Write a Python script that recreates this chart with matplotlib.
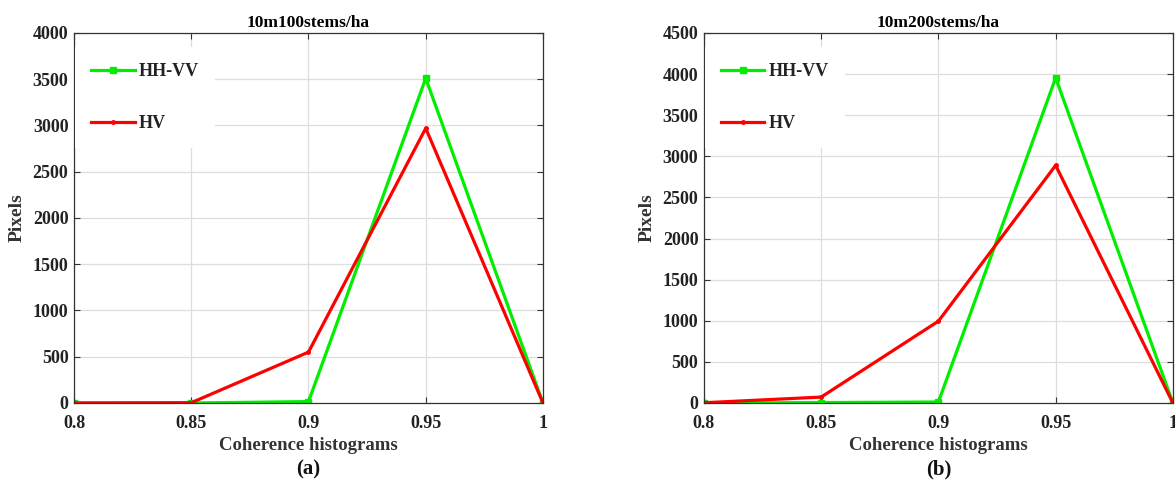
import matplotlib.pyplot as plt
import numpy as np

plt.rcParams['font.family'] = ['Liberation Serif', 'DejaVu Serif']
plt.rcParams['font.weight'] = 'bold'

coherence = [0.8, 0.85, 0.9, 0.95, 1.0]
xticks = [0.8, 0.85, 0.9, 0.95, 1.0]
xtick_labels = ['0.8', '0.85', '0.9', '0.95', '1']

# 10m, 100 stems/ha
hhvv_100 = [0, 0, 15, 3510, 0]
hv_100 = [0, 3, 550, 2970, 0]

# 10m, 200 stems/ha
hhvv_200 = [0, 5, 12, 3955, 0]
hv_200 = [3, 72, 995, 2890, 0]

panels = [
    ('10m100stems/ha', hhvv_100, hv_100, 4000, '(a)'),
    ('10m200stems/ha', hhvv_200, hv_200, 4500, '(b)'),
]

fig = plt.figure(figsize=(11.75, 4.88), dpi=100)
lefts = [0.0630, 0.5991]

for left, (title, hhvv, hv, ymax, tag) in zip(lefts, panels):
    ax = fig.add_axes([left, 0.1742, 0.3991, 0.7582])
    ax.plot(coherence, hhvv, color='#00ee00', lw=2.3, marker='s', ms=4, label='HH-VV')
    ax.plot(coherence, hv, color='#ff0000', lw=2.3, marker='o', ms=2.5, label='HV')
    ax.set_xlim(0.8, 1.0)
    ax.set_ylim(0, ymax)
    ax.set_xticks(xticks)
    ax.set_xticklabels(xtick_labels)
    ax.set_yticks(np.arange(0, ymax + 1, 500))
    ax.grid(True, color='#dddddd', lw=0.9)
    ax.set_axisbelow(True)
    ax.tick_params(direction='in', top=True, right=True, length=4,
                   labelsize=13, color='#333333')
    ax.tick_params(axis='x', pad=9)
    ax.tick_params(axis='y', pad=4)
    for lab in ax.get_xticklabels() + ax.get_yticklabels():
        lab.set_fontweight('bold')
        lab.set_color('#222222')
    for sp in ax.spines.values():
        sp.set_color('#333333')
        sp.set_linewidth(0.9)
    ax.set_title(title, fontsize=12.5, fontweight='bold', pad=4)
    ax.set_xlabel('Coherence histograms', fontsize=13.5, fontweight='bold',
                  color='#333333', labelpad=3)
    ax.set_ylabel('Pixels', fontsize=14, fontweight='bold', color='#333333', labelpad=5)
    leg = ax.legend(loc='upper left', bbox_to_anchor=(0.002, 0.963), fontsize=13,
                    frameon=True, fancybox=False, handlelength=2.4,
                    labelspacing=1.95, borderaxespad=0, borderpad=0.9,
                    handletextpad=0.25)
    leg.get_frame().set_facecolor('white')
    leg.get_frame().set_edgecolor('none')
    leg.get_frame().set_alpha(1.0)
    for t in leg.get_texts():
        t.set_fontweight('bold')
        t.set_color('#222222')
    ax.text(0.5, -0.18, tag, transform=ax.transAxes, ha='center', va='center',
            fontsize=15, fontweight='bold', color='#111111')

plt.savefig('out.png', dpi=100)
